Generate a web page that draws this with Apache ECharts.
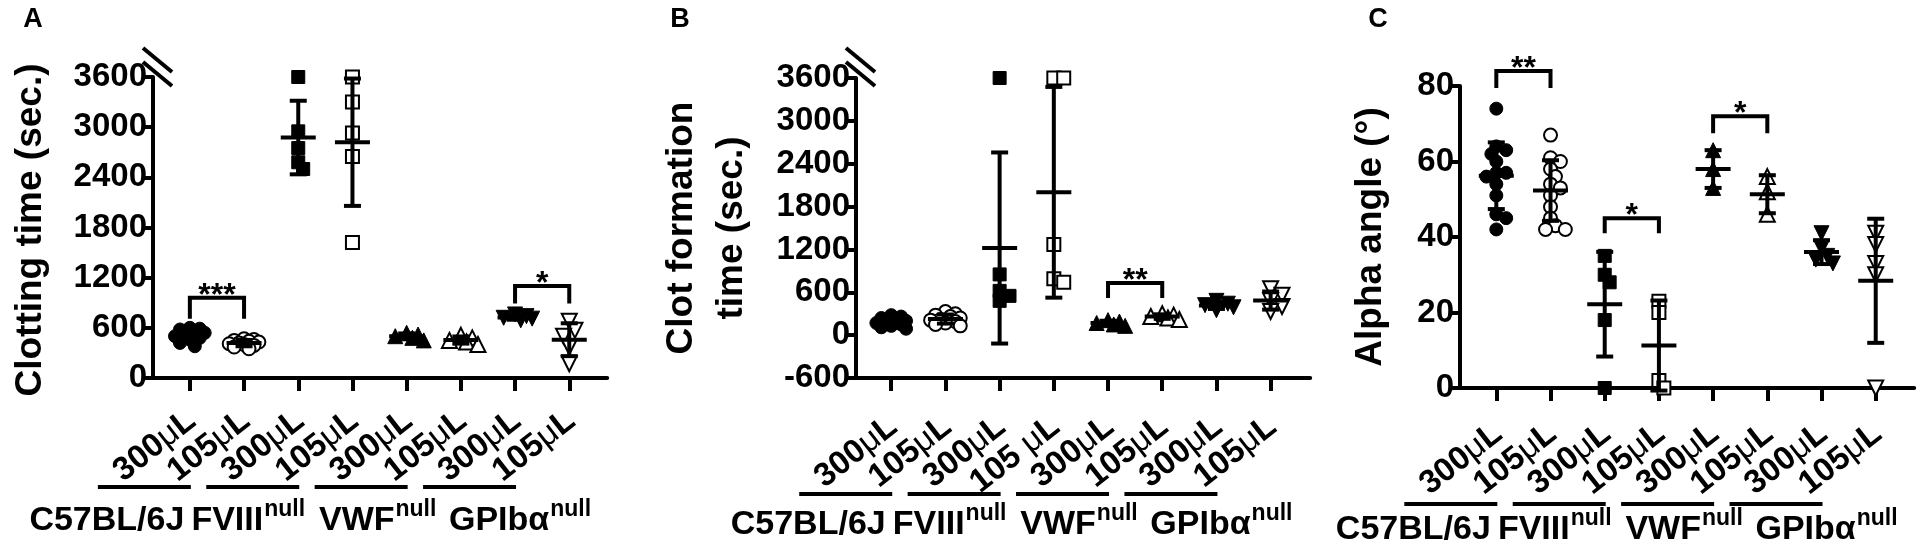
<!DOCTYPE html>
<html><head><meta charset="utf-8">
<script src="https://cdn.jsdelivr.net/npm/echarts@6/dist/echarts.min.js"></script>
<style>html,body{margin:0;padding:0;background:#fff}#c{width:1920px;height:557px}</style>
</head><body><div id="c"></div>
<script>
const FONT = '"Liberation Sans", Arial, Helvetica, sans-serif';
// ---- categories & labels ----
const groupNames = ['C57BL/6J', 'FVIII', 'VWF', 'GPIbα'];
const groupSup = ['', 'null', 'null', 'null'];
const volumesA = ['300', '105', '300', '105', '300', '105', '300', '105'];
const volumesB = ['300', '105', '300', '105 ', '300', '105', '300', '105'];
const volumesC = ['300', '105', '300', '105', '300', '105', '300', '105'];
const yTitles = [['Clotting time (sec.)'], ['Clot formation', 'time (sec.)'], ['Alpha angle (°)']];
const panelLetters = ['A', 'B', 'C'];
const yTicksA = { min: 0, max: 3600, interval: 600 };
const yTicksB = { min: -600, max: 3600, interval: 600 };
const yTicksC = { min: 0, max: 80, interval: 20 };
// ---- values (one list per category, order as categories) ----
const clottingTime = [
  [600, 590, 580, 560, 540, 520, 500, 480, 460, 420, 380],
  [470, 460, 450, 440, 430, 420, 410, 400, 390, 370, 350],
  [3600, 2950, 2750, 2580, 2500],
  [3600, 3300, 2930, 2650, 1620],
  [540, 520, 500, 480, 450],
  [510, 480, 450, 430, 400],
  [760, 740, 720, 710, 690],
  [680, 570, 500, 370, 170]
];
const clotFormationTime = [
  [280, 260, 240, 220, 200, 190, 170, 150, 130, 110, 90],
  [330, 300, 280, 260, 240, 220, 210, 190, 170, 150, 130],
  [3600, 850, 620, 550, 480],
  [3600, 3600, 1270, 790, 740],
  [210, 190, 170, 150, 130],
  [300, 280, 260, 240, 220],
  [480, 440, 420, 390, 350],
  [650, 560, 480, 400, 330]
];
const alphaAngle = [
  [74, 64, 63, 62, 60, 57, 57, 56, 54, 51, 46, 45, 42],
  [67, 61, 60, 58, 56, 54, 53, 51, 48, 45, 43, 42, 42],
  [35, 30, 28, 18, 0],
  [23, 20, 2, 0],
  [63, 58, 53],
  [56, 52, 46],
  [41, 37, 35, 34, 33],
  [41, 38, 33, 30, 0]
];
// significance brackets: panel, category from/to (1-based), bracket top value, leg end value, label
const significance = [
  { panel: 0, from: 1, to: 2, top: 960, leg: 710, label: '***' },
  { panel: 0, from: 7, to: 8, top: 1100, leg: 890, label: '*' },
  { panel: 1, from: 5, to: 6, top: 730, leg: 520, label: '**' },
  { panel: 2, from: 1, to: 2, top: 84, leg: 79.5, label: '**' },
  { panel: 2, from: 3, to: 4, top: 45, leg: 41, label: '*' },
  { panel: 2, from: 5, to: 6, top: 72, leg: 67.5, label: '*' }
];

// ---- layout (pixels) ----
const panels = [
  { data: clottingTime, vols: volumesA, y: yTicksA, left: 153, top: 77, height: 301, spacing: 54.2, xmin: 0.32, xmax: 8.70, margin: 39, lineY: 487, nameY: 518, titleX: [31], titleY: 230 },
  { data: clotFormationTime, vols: volumesB, y: yTicksB, left: 856, top: 78, height: 300, spacing: 54.2, xmin: 0.35, xmax: 8.73, margin: 45, lineY: 494, nameY: 522, titleX: [682, 732], titleY: 228 },
  { data: alphaAngle, vols: volumesC, y: yTicksC, left: 1460, top: 86, height: 302, spacing: 54.2, xmin: 0.33, xmax: 8.71, margin: 42, lineY: 504, nameY: 527, titleX: [1371], titleY: 237 }
];
const LABEL_ROT = 38 * Math.PI / 180;
const symbols = [
  { s: 'circle', fill: true, size: 13, rot: 0 },
  { s: 'circle', fill: false, size: 13, rot: 0 },
  { s: 'rect', fill: true, size: 13, rot: 0 },
  { s: 'rect', fill: false, size: 13, rot: 0 },
  { s: 'triangle', fill: true, size: 15, rot: 0 },
  { s: 'triangle', fill: false, size: 15, rot: 0 },
  { s: 'triangle', fill: true, size: 15, rot: 180 },
  { s: 'triangle', fill: false, size: 15, rot: 180 }
];
const ticks = [1, 2, 3, 4, 5, 6, 7, 8];

// compact horizontal spreading of overlapping points (layout only)
function swarm(vals, pxPerUnit, size) {
  const placed = [], res = new Array(vals.length);
  const idx = vals.map((v, i) => i).sort((a, b) => vals[b] - vals[a]);
  const cands = [0, 1, -1, 2, -2, 3, -3].map(k => k * size * 0.38);
  for (const i of idx) {
    const y = vals[i] * pxPerUnit;
    let best = 0, bestD = -1;
    for (const c of cands) {
      const d = placed.length ? Math.min(...placed.map(p => Math.hypot(p[0] - c, p[1] - y))) : 1e9;
      if (d >= size * 0.62) { best = c; bestD = 1e9; break; }
      if (d > bestD) { bestD = d; best = c; }
    }
    placed.push([best, y]); res[i] = best;
  }
  return res;
}
function meanSd(a) {
  const m = a.reduce((s, v) => s + v, 0) / a.length;
  const sd = Math.sqrt(a.reduce((s, v) => s + (v - m) * (v - m), 0) / (a.length - 1));
  return [m, sd];
}
function errRender(params, api) {
  const x = api.value(0), m = api.value(1), sd = api.value(2);
  const c = api.coord([x, m]), t = api.coord([x, m + sd]), b = api.coord([x, m - sd]);
  const st = { stroke: '#000', lineWidth: 4 };
  return { type: 'group', children: [
    { type: 'line', shape: { x1: c[0] - 17.5, y1: c[1], x2: c[0] + 17.5, y2: c[1] }, style: st },
    { type: 'line', shape: { x1: c[0], y1: t[1], x2: c[0], y2: b[1] }, style: st },
    { type: 'line', shape: { x1: c[0] - 8.5, y1: t[1], x2: c[0] + 8.5, y2: t[1] }, style: st },
    { type: 'line', shape: { x1: c[0] - 8.5, y1: b[1], x2: c[0] + 8.5, y2: b[1] }, style: st }
  ] };
}

const grid = [], xAxis = [], yAxis = [], series = [];
panels.forEach((p, pi) => {
  const width = (p.xmax - p.xmin) * p.spacing;
  grid.push({ left: p.left, top: p.top, width: width, height: p.height });
  xAxis.push({
    type: 'value', gridIndex: pi, min: p.xmin, max: p.xmax,
    splitLine: { show: false },
    axisLine: { onZero: false, lineStyle: { color: '#000', width: 4 } },
    axisTick: { customValues: ticks, length: 13, lineStyle: { color: '#000', width: 4 } },
    axisLabel: { show: false }
  });
  yAxis.push({
    type: 'value', gridIndex: pi, min: p.y.min, max: p.y.max, interval: p.y.interval,
    splitLine: { show: false },
    axisLine: { show: true, lineStyle: { color: '#000', width: 4 } },
    axisTick: { show: true, length: 11, lineStyle: { color: '#000', width: 4 } },
    axisLabel: { fontFamily: FONT, fontSize: 33, fontWeight: 'bold', color: '#000', margin: 6, formatter: v => String(v) }
  });
  const pxPerUnit = p.height / (p.y.max - p.y.min);
  const errData = [];
  p.data.forEach((vals, ci) => {
    const sym = symbols[ci];
    const offs = swarm(vals, pxPerUnit, sym.size);
    series.push({
      type: 'scatter', xAxisIndex: pi, yAxisIndex: pi, symbol: sym.s, symbolSize: sym.size,
      symbolRotate: sym.rot, z: 2, silent: true,
      itemStyle: sym.fill ? { color: '#000', borderColor: '#000', borderWidth: 1, opacity: 1 } : { color: '#fff', borderColor: '#000', borderWidth: 2, opacity: 1 },
      data: vals.map((v, i) => [ci + 1 + offs[i] / p.spacing, v])
    });
    const ms = meanSd(vals);
    errData.push([ci + 1, ms[0], ms[1]]);
  });
  series.push({ type: 'custom', xAxisIndex: pi, yAxisIndex: pi, z: 5, silent: true, renderItem: errRender, data: errData });
});

const chart = echarts.init(document.getElementById('c'), null, { renderer: 'canvas' });
chart.setOption({ animation: false, backgroundColor: '#fff', grid, xAxis, yAxis, series });

// ---- annotations computed from the axes ----
const g = [];
const line = (x1, y1, x2, y2, w) => ({ type: 'line', shape: { x1, y1, x2, y2 }, style: { stroke: '#000', lineWidth: w || 4 }, z: 10 });
const text = (x, y, t, size, opts) => Object.assign({ type: 'text', x, y, z: 10,
  style: Object.assign({ text: t, fontFamily: FONT, fontSize: size, fontWeight: 'bold', fill: '#000', align: 'center', verticalAlign: 'middle' }, opts && opts.style) }, opts && opts.el);
const groupOffsets = [-83, -50, -29, 5];
panels.forEach((p, pi) => {
  const px = v => chart.convertToPixel({ xAxisIndex: pi }, v);
  const axisY = p.top + p.height;
  // rotated volume labels under each tick
  ticks.forEach((t, i) => {
    g.push({ type: 'text', x: px(t) + 2, y: axisY + p.margin, rotation: LABEL_ROT, z: 10, style: {
      text: '{n|' + p.vols[i] + '}{u|μ}{n|L}', align: 'right', verticalAlign: 'middle',
      rich: {
        n: { fontFamily: FONT, fontSize: 33, fontWeight: 'bold', fill: '#000' },
        u: { fontFamily: FONT, fontSize: 33, fontWeight: 'normal', fill: '#000' }
      } } });
  });
  for (let k = 0; k < 4; k++) {
    const tx = px(2 * k + 1);
    g.push(line(tx - 92, p.lineY, tx + 1, p.lineY, 4));
    const rt = groupSup[k] ? '{g|' + groupNames[k] + '}{s|' + groupSup[k] + '}' : '{g|' + groupNames[k] + '}';
    g.push({ type: 'text', x: tx + groupOffsets[k], y: p.nameY, z: 10, style: {
      text: rt, align: 'center', verticalAlign: 'middle',
      rich: {
        g: { fontFamily: FONT, fontSize: 34, fontWeight: 'bold', fill: '#000', lineHeight: 40, verticalAlign: 'bottom' },
        s: { fontFamily: FONT, fontSize: 23, fontWeight: 'bold', fill: '#000', lineHeight: 40, verticalAlign: 'top', padding: [0, 0, 0, 1] }
      } } });
  }
  yTitles[pi].forEach((t, li) => g.push(text(p.titleX[li], p.titleY, t, 37, { el: { rotation: Math.PI / 2 } })));
});
g.push(text(33, 20, panelLetters[0], 27));
g.push(text(680, 20, panelLetters[1], 27));
g.push(text(1378, 20, panelLetters[2], 27));
// axis breaks on A and B
[0, 1].forEach(pi => {
  const axX = panels[pi].left;
  g.push(line(axX - 10, 48, axX + 19, 72, 4));
  g.push(line(axX - 10, 62, axX + 19, 86, 4));
});
// significance brackets
significance.forEach(s => {
  const a = chart.convertToPixel({ xAxisIndex: s.panel, yAxisIndex: s.panel }, [s.from, s.top]);
  const b = chart.convertToPixel({ xAxisIndex: s.panel, yAxisIndex: s.panel }, [s.to, s.leg]);
  g.push({ type: 'polyline', z: 10, shape: { points: [[a[0], b[1]], [a[0], a[1]], [b[0], a[1]], [b[0], b[1]]] }, style: { stroke: '#000', lineWidth: 4, fill: null } });
  g.push(text((a[0] + b[0]) / 2, a[1] - 2, s.label, 32));
});
chart.setOption({ graphic: g });
</script></body></html>
